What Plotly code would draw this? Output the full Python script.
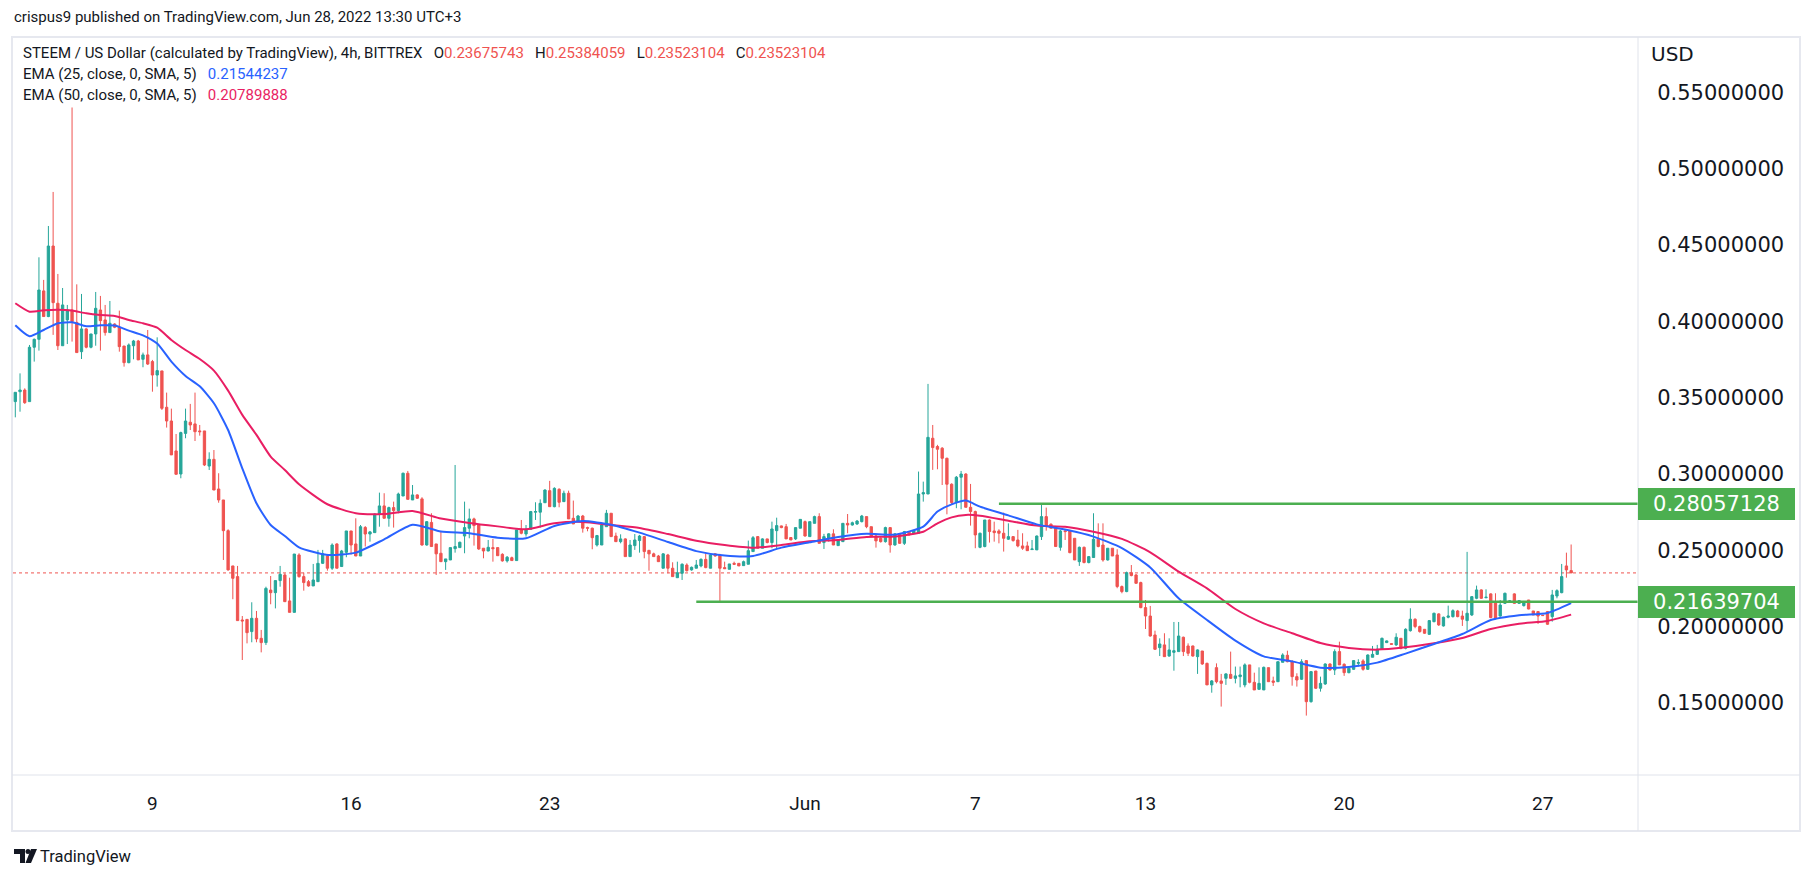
import pandas as pd
import plotly.graph_objects as go

# ---------------- data ----------------
first_bar = "2022-05-04 07:00"   # 4h bars, UTC+3

open_ = [
    .3474, .3539, .3550, .3474, .3830, .3882, .4199, .4031, .4493, .4118,
    .3840, .4009, .4074, .3993, .3801, .3950, .3830, .3917, .4074, .4009,
    .3926, .3982, .3961, .3838, .3729, .3840, .3871, .3751, .3780, .3736,
    .3648, .3675, .3437, .3347, .3151, .3000, .3266, .3339, .3328, .3282,
    .3282, .3052, .3096, .2902, .2830, .2629, .2398, .2328, .2044, .2048,
    .1968, .2055, .1924, .1896, .2240, .2223, .2302, .2339, .2169, .2094,
    .2470, .2328, .2295, .2267, .2295, .2415, .2463, .2383, .2542, .2394,
    .2487, .2627, .2542, .2463, .2650, .2607, .2616, .2738, .2791, .2710,
    .2780, .2760, .2856, .3005, .2830, .2863, .2837, .2535, .2683, .2542,
    .2481, .2426, .2437, .2511, .2518, .2594, .2645, .2706, .2666, .2514,
    .2496, .2518, .2518, .2474, .2431, .2452, .2433, .2634, .2607, .2638,
    .2750, .2750, .2812, .2891, .2786, .2900, .2819, .2874, .2710, .2688,
    .2725, .2649, .2645, .2535, .2535, .2655, .2743, .2594, .2557, .2575,
    .2459, .2531, .2564, .2590, .2500, .2477, .2463, .2383, .2470, .2383,
    .2321, .2350, .2404, .2372, .2383, .2398, .2441, .2383, .2477, .2470,
    .2387, .2376, .2415, .2415, .2400, .2409, .2492, .2590, .2514, .2575,
    .2551, .2629, .2660, .2655, .2584, .2575, .2645, .2688, .2590, .2677,
    .2721, .2551, .2579, .2608, .2531, .2557, .2677, .2666, .2673, .2688,
    .2721, .2655, .2594, .2579, .2557, .2649, .2535, .2608, .2546, .2618,
    .2612, .2612, .2869, .2869, .3234, .3180, .3169, .3103, .2933, .2813,
    .2979, .3000, .2782, .2754, .2520, .2525, .2699, .2627, .2627, .2612,
    .2573, .2590, .2568, .2529, .2529, .2505, .2503, .2590, .2721, .2671,
    .2655, .2520, .2627, .2627, .2579, .2426, .2520, .2420, .2453, .2573,
    .2535, .2437, .2514, .2470, .2263, .2230, .2354, .2339, .2289, .2125,
    .2070, .1946, .1863, .1881, .1808, .1832, .1837, .1931, .1874, .1874,
    .1804, .1841, .1760, .1619, .1732, .1645, .1662, .1688, .1662, .1673,
    .1619, .1750, .1636, .1590, .1586, .1732, .1645, .1640, .1767, .1813,
    .1771, .1673, .1656, .1778, .1509, .1710, .1597, .1625, .1756, .1717,
    .1837, .1754, .1699, .1721, .1760, .1776, .1721, .1800, .1819, .1852,
    .1896, .1889, .1881, .1924, .1859, .1974, .2049, .2001, .1983, .1950,
    .2033, .2084, .2005, .2062, .2066, .2103, .2070, .2040, .2077, .2186,
    .2241, .2190, .2215, .2164, .2070, .2153, .2166, .2215, .2153, .2138,
    .2175, .2103, .2099, .2075, .2099, .2066, .2201, .2223, .2398, .23675743,
]

high = [
    .3535, .3659, .3561, .3845, .3887, .4419, .4271, .4624, .4847, .4310,
    .4218, .4107, .5400, .4242, .4179, .3955, .3917, .4192, .4166, .4107,
    .4133, .3987, .4070, .3838, .3855, .3878, .3878, .3795, .3943, .3747,
    .3895, .3675, .3533, .3428, .3262, .3277, .3428, .3459, .3533, .3321,
    .3282, .3142, .3157, .3005, .2830, .2638, .2398, .2398, .2070, .2048,
    .2160, .2103, .1979, .2262, .2332, .2302, .2398, .2350, .2321, .2476,
    .2481, .2354, .2306, .2411, .2503, .2503, .2477, .2546, .2546, .2503,
    .2627, .2627, .2710, .2666, .2659, .2627, .2742, .2878, .2874, .2786,
    .2819, .2878, .3009, .3020, .2928, .2867, .2848, .2692, .2743, .2542,
    .2627, .2444, .2518, .3059, .2557, .2819, .2773, .2714, .2666, .2514,
    .2568, .2575, .2518, .2481, .2463, .2459, .2634, .2699, .2666, .2758,
    .2815, .2834, .2900, .2955, .2913, .2906, .2891, .2891, .2826, .2732,
    .2732, .2655, .2649, .2601, .2673, .2765, .2743, .2616, .2605, .2579,
    .2568, .2607, .2601, .2594, .2503, .2485, .2470, .2481, .2477, .2422,
    .2426, .2415, .2415, .2394, .2437, .2448, .2481, .2477, .2481, .2477,
    .2426, .2411, .2426, .2415, .2433, .2564, .2594, .2594, .2579, .2575,
    .2688, .2714, .2662, .2673, .2586, .2649, .2703, .2695, .2688, .2727,
    .2743, .2608, .2612, .2638, .2568, .2677, .2738, .2688, .2699, .2732,
    .2721, .2655, .2601, .2586, .2655, .2651, .2612, .2612, .2627, .2623,
    .2634, .3016, .2950, .3590, .3321, .3191, .3176, .3107, .2939, .2987,
    .3020, .3005, .2935, .2760, .2616, .2699, .2703, .2688, .2638, .2747,
    .2677, .2594, .2634, .2612, .2557, .2568, .2597, .2804, .2780, .2677,
    .2660, .2634, .2634, .2634, .2579, .2525, .2525, .2463, .2743, .2677,
    .2677, .2514, .2514, .2507, .2270, .2361, .2404, .2345, .2295, .2175,
    .2136, .1974, .1924, .1957, .1924, .2031, .2031, .1935, .1891, .1876,
    .1852, .1841, .1765, .1651, .1760, .1691, .1695, .1837, .1739, .1739,
    .1760, .1750, .1699, .1734, .1739, .1732, .1673, .1771, .1826, .1843,
    .1782, .1695, .1787, .1782, .1706, .1710, .1673, .1760, .1760, .1852,
    .1902, .1760, .1734, .1782, .1787, .1787, .1819, .1874, .1881, .1929,
    .1910, .1891, .1957, .1924, .1990, .2121, .2055, .2007, .1983, .2044,
    .2092, .2088, .2066, .2138, .2114, .2110, .2105, .2490, .2201, .2269,
    .2245, .2245, .2219, .2219, .2175, .2223, .2175, .2219, .2175, .2169,
    .2175, .2103, .2103, .2077, .2103, .2241, .2245, .2411, .2485, .25384059,
]

low = [
    .3371, .3408, .3459, .3474, .3736, .3808, .4031, .4027, .3911, .3812,
    .3840, .3851, .3867, .3795, .3753, .3823, .3823, .3840, .3808, .3906,
    .3926, .3955, .3801, .3703, .3725, .3751, .3747, .3699, .3714, .3539,
    .3572, .3419, .3304, .3125, .2998, .2972, .3234, .3288, .3216, .3251,
    .3052, .3026, .2895, .2812, .2437, .2367, .2180, .2040, .1782, .1891,
    .1898, .1898, .1832, .1880, .2147, .2120, .2262, .2164, .2094, .2094,
    .2321, .2236, .2262, .2267, .2295, .2411, .2367, .2372, .2383, .2394,
    .2455, .2472, .2463, .2463, .2525, .2557, .2616, .2655, .2710, .2655,
    .2649, .2743, .2856, .2834, .2830, .2837, .2531, .2531, .2525, .2339,
    .2426, .2372, .2437, .2485, .2518, .2481, .2579, .2531, .2503, .2448,
    .2494, .2426, .2465, .2426, .2420, .2433, .2433, .2605, .2590, .2638,
    .2699, .2649, .2812, .2786, .2782, .2782, .2819, .2706, .2673, .2688,
    .2616, .2625, .2507, .2525, .2535, .2655, .2590, .2557, .2546, .2459,
    .2459, .2503, .2485, .2448, .2367, .2459, .2426, .2383, .2350, .2328,
    .2321, .2306, .2361, .2367, .2383, .2389, .2383, .2383, .2459, .21639704,
    .2380, .2376, .2404, .2398, .2400, .2409, .2492, .2514, .2514, .2546,
    .2514, .2507, .2645, .2575, .2568, .2568, .2645, .2590, .2590, .2677,
    .2546, .2509, .2557, .2535, .2531, .2557, .2612, .2662, .2666, .2683,
    .2645, .2590, .2518, .2551, .2551, .2485, .2531, .2542, .2535, .2597,
    .2608, .2612, .2819, .2869, .3027, .3031, .2928, .2736, .2797, .2776,
    .2769, .2782, .2662, .2514, .2514, .2520, .2551, .2557, .2546, .2492,
    .2568, .2557, .2520, .2503, .2496, .2503, .2503, .2568, .2629, .2645,
    .2525, .2498, .2568, .2481, .2437, .2398, .2415, .2415, .2453, .2520,
    .2426, .2433, .2463, .2252, .2219, .2226, .2330, .2284, .2121, .1985,
    .1935, .1848, .1808, .1804, .1804, .1712, .1837, .1808, .1808, .1804,
    .1691, .1750, .1619, .1568, .1629, .1477, .1619, .1658, .1629, .1603,
    .1603, .1629, .1586, .1586, .1586, .1640, .1612, .1640, .1767, .1767,
    .1614, .1608, .1651, .1418, .1503, .1592, .1575, .1619, .1712, .1684,
    .1750, .1678, .1695, .1717, .1739, .1712, .1717, .1800, .1815, .1848,
    .1893, .1883, .1874, .1852, .1852, .1968, .1990, .1961, .1953, .1946,
    .2029, .2005, .2001, .2055, .2060, .2062, .2005, .1974, .2070, .2180,
    .2182, .2186, .2055, .2049, .2066, .2149, .2164, .2149, .2149, .2132,
    .2114, .2077, .2018, .2071, .2012, .2033, .2186, .2219, .2321, .23523104,
]

close = [
    .3535, .3550, .3467, .3830, .3882, .4205, .4031, .4493, .4122, .3840,
    .4107, .4074, .3998, .3795, .3950, .3830, .3917, .4085, .4004, .3926,
    .3987, .3961, .3834, .3729, .3845, .3871, .3747, .3780, .3720, .3648,
    .3677, .3430, .3347, .3125, .2998, .3271, .3347, .3321, .3277, .3277,
    .3059, .3096, .2895, .2830, .2629, .2372, .2317, .2040, .2038, .1961,
    .2055, .1920, .1896, .2251, .2223, .2302, .2343, .2164, .2094, .2476,
    .2328, .2289, .2267, .2306, .2415, .2477, .2383, .2535, .2383, .2496,
    .2627, .2535, .2463, .2655, .2607, .2621, .2738, .2791, .2710, .2780,
    .2760, .2869, .3005, .2834, .2863, .2841, .2535, .2688, .2525, .2477,
    .2426, .2444, .2518, .2525, .2553, .2649, .2706, .2662, .2509, .2496,
    .2520, .2511, .2465, .2431, .2455, .2433, .2634, .2612, .2638, .2754,
    .2754, .2808, .2895, .2786, .2906, .2815, .2874, .2706, .2673, .2725,
    .2645, .2645, .2583, .2597, .2666, .2743, .2590, .2557, .2575, .2459,
    .2535, .2568, .2594, .2492, .2477, .2459, .2426, .2477, .2383, .2328,
    .2354, .2409, .2367, .2389, .2404, .2441, .2387, .2470, .2463, .2383,
    .2380, .2411, .2409, .2398, .2426, .2498, .2583, .2514, .2575, .2551,
    .2640, .2662, .2649, .2575, .2568, .2649, .2703, .2594, .2688, .2721,
    .2546, .2590, .2608, .2535, .2568, .2677, .2666, .2681, .2692, .2725,
    .2655, .2594, .2562, .2557, .2649, .2535, .2608, .2546, .2623, .2601,
    .2629, .2869, .2878, .3240, .3173, .3162, .3103, .2933, .2813, .2979,
    .3000, .2782, .2754, .2601, .2612, .2699, .2623, .2616, .2612, .2579,
    .2590, .2564, .2529, .2514, .2498, .2509, .2594, .2721, .2660, .2645,
    .2525, .2627, .2623, .2485, .2437, .2520, .2420, .2459, .2573, .2525,
    .2437, .2514, .2463, .2263, .2230, .2354, .2335, .2284, .2125, .2070,
    .1939, .1852, .1887, .1804, .1848, .1843, .1939, .1837, .1826, .1808,
    .1848, .1756, .1619, .1645, .1640, .1629, .1691, .1662, .1678, .1684,
    .1750, .1636, .1586, .1629, .1734, .1640, .1636, .1771, .1815, .1771,
    .1673, .1651, .1771, .1509, .1706, .1597, .1629, .1756, .1717, .1837,
    .1750, .1699, .1728, .1778, .1765, .1721, .1815, .1819, .1852, .1924,
    .1907, .1885, .1931, .1859, .1983, .2049, .2001, .1968, .1957, .2040,
    .2088, .2012, .2062, .2070, .2105, .2066, .2049, .2088, .2197, .2241,
    .2186, .2193, .2060, .2055, .2142, .2219, .2169, .2153, .2171, .2164,
    .2116, .2077, .2070, .2073, .2016, .2208, .2236, .2328, .2372, .23523104,
]

# EMA lines at these bar indices
ema_idx = [0, 3, 6, 9, 12, 15, 18, 21, 24, 27, 30, 33, 36, 39, 42, 45, 48, 51, 54, 57,
           60, 66, 72, 78, 84, 90, 96, 102, 108, 114, 120, 126, 132, 138, 144, 150, 156,
           162, 168, 174, 180, 186, 192, 195, 198, 201, 204, 210, 216, 222, 228, 234,
           240, 246, 252, 258, 264, 270, 276, 282, 288, 294, 300, 306, 312, 318, 324, 329]
ema25 = [.3974, .3902, .3943, .3987, .3993, .3967, .3974, .3972, .3939, .3908, .3854,
         .3736, .3642, .3574, .3463, .3288, .3037, .2808, .2666, .2594, .2520, .2470,
         .2485, .2572, .2668, .2623, .2612, .2583, .2579, .2660, .2692, .2668, .2616,
         .2555, .2495, .2466, .2463, .2518, .2553, .2588, .2609, .2603, .2655, .2754,
         .2801, .2826, .2786, .2729, .2670, .2636, .2590, .2515, .2388, .2186, .2044,
         .1909, .1806, .1773, .1732, .1736, .1765, .1824, .1887, .1952, .2044, .2075,
         .2090, .21544237]
ema50 = [.4118, .4063, .4072, .4076, .4070, .4052, .4041, .4035, .4009, .3987, .3958,
         .3878, .3812, .3753, .3677, .3546, .3387, .3256, .3114, .3026, .2933, .2802,
         .2743, .2738, .2758, .2708, .2679, .2657, .2638, .2677, .2686, .2666, .2647,
         .2607, .2563, .2535, .2517, .2535, .2559, .2568, .2588, .2590, .2622, .2677,
         .2716, .2732, .2727, .2694, .2662, .2655, .2622, .2575, .2487, .2361, .2251,
         .2116, .2022, .1957, .1893, .1861, .1850, .1865, .1891, .1926, .1985, .2020,
         .2038, .20789888]

tick_dates = ["2022-05-09 03:00", "2022-05-16 03:00", "2022-05-23 03:00", "2022-06-01 03:00",
              "2022-06-07 03:00", "2022-06-13 03:00", "2022-06-20 03:00", "2022-06-27 03:00"]
tick_text = ["9", "16", "23", "Jun", "7", "13", "20", "27"]
price_ticks = [0.15, 0.20, 0.25, 0.30, 0.35, 0.40, 0.45, 0.50, 0.55]

levels = [0.28057128, 0.21639704]
level_start_bar = [208, 144]
last_close = 0.23523104

# ---------------- layout geometry ----------------
W, H = 1813, 876
ML, MR, MT, MB = 13, 175, 38, 101
PW, PH = W - ML - MR, H - MT - MB


def px_x(px):
    return (px - ML) / PW


def px_y(py):
    return (H - MB - py) / PH


n = min(len(open_), len(high), len(low), len(close))
dates = pd.date_range(first_bar, periods=n, freq="4h")
bar_hours = 4.0
bar_px = 4.729
hours_per_px = bar_hours / bar_px
t_left = dates[0] - pd.Timedelta(hours=2.3 * hours_per_px)
t_right = t_left + pd.Timedelta(hours=PW * hours_per_px)
y_range = [0.1029, 0.5855]

GREEN_C = "#26a69a"
RED_C = "#ef5350"
TXT = "#131722"
FONT = "Roboto, 'Open Sans', sans-serif"
AXFONT = "'DejaVu Sans', sans-serif"

fig = go.Figure()
fig.add_trace(go.Candlestick(
    x=dates, open=open_[:n], high=high[:n], low=low[:n], close=close[:n],
    increasing=dict(line=dict(color=GREEN_C, width=1), fillcolor=GREEN_C),
    decreasing=dict(line=dict(color=RED_C, width=1), fillcolor=RED_C),
    whiskerwidth=0, hoverinfo="skip", showlegend=False,
))
ema_x = [dates[i] for i in ema_idx]
fig.add_trace(go.Scatter(x=ema_x, y=ema50, mode="lines",
                         line=dict(color="#e91e63", width=2, shape="spline", smoothing=0.6),
                         hoverinfo="skip", showlegend=False))
fig.add_trace(go.Scatter(x=ema_x, y=ema25, mode="lines",
                         line=dict(color="#2962ff", width=2, shape="spline", smoothing=0.6),
                         hoverinfo="skip", showlegend=False))

shapes = []
# current price dotted line
shapes.append(dict(type="line", xref="paper", x0=0, x1=1, yref="y", y0=last_close, y1=last_close,
                   line=dict(color=RED_C, width=1, dash="dot"), layer="below"))
# horizontal level lines
for lv, sb in zip(levels, level_start_bar):
    shapes.append(dict(type="line", xref="x", x0=dates[sb], x1=t_right, yref="y", y0=lv, y1=lv,
                       line=dict(color="#4caf50", width=2.5)))
# frame
fx0, fx1 = px_x(12), px_x(1800)
fy0, fy1 = px_y(831), px_y(37)
shapes.append(dict(type="rect", xref="paper", yref="paper", x0=fx0, x1=fx1, y0=fy0, y1=fy1,
                   line=dict(color="#e6e8ef", width=2)))
shapes.append(dict(type="line", xref="paper", yref="paper", x0=1, x1=1, y0=fy0, y1=fy1,
                   line=dict(color="#e0e3eb", width=1)))
shapes.append(dict(type="line", xref="paper", yref="paper", x0=fx0, x1=fx1, y0=0, y1=0,
                   line=dict(color="#e0e3eb", width=1)))


# TradingView logo (drawn)
def pxpath(pts):
    s = "M" + " L".join(f"{px_x(a):.5f},{px_y(b):.5f}" for a, b in pts) + " Z"
    return s


shapes.append(dict(type="path", xref="paper", yref="paper",
                   path=pxpath([(14, 849), (25, 849), (25, 863), (20, 863), (20, 854), (14, 854)]),
                   fillcolor=TXT, line=dict(width=0)))
shapes.append(dict(type="circle", xref="paper", yref="paper",
                   x0=px_x(25.5), x1=px_x(30.5), y0=px_y(854), y1=px_y(849),
                   fillcolor=TXT, line=dict(width=0)))
shapes.append(dict(type="path", xref="paper", yref="paper",
                   path=pxpath([(31, 849), (37, 849), (31, 863), (25.5, 863)]),
                   fillcolor=TXT, line=dict(width=0)))

ann = []


def txt(x, y, text, size=15, color=TXT, family=FONT, xanchor="left"):
    ann.append(dict(xref="paper", yref="paper", x=px_x(x), y=px_y(y), text=text, showarrow=False,
                    xanchor=xanchor, yanchor="middle", font=dict(family=family, size=size, color=color)))


sp = "\u00a0\u00a0\u00a0"
red = lambda s: f"<span style='color:{RED_C}'>{s}</span>"
txt(12, 17, "crispus9 published on TradingView.com, Jun 28, 2022 13:30 UTC+3", size=15)
txt(21, 53, "STEEM / US Dollar (calculated by TradingView), 4h, BITTREX" + sp +
    "O" + red(f"{open_[n-1]:.8f}") + sp + "H" + red(f"{high[n-1]:.8f}") + sp +
    "L" + red(f"{low[n-1]:.8f}") + sp + "C" + red(f"{close[n-1]:.8f}"), size=15)
txt(21, 74, "EMA (25, close, 0, SMA, 5)" + sp +
    f"<span style='color:#2962ff'>{ema25[-1]:.8f}</span>", size=15)
txt(21, 95, "EMA (50, close, 0, SMA, 5)" + sp +
    f"<span style='color:#e91e63'>{ema50[-1]:.8f}</span>", size=15)
txt(1649, 54, "USD", size=20, family=AXFONT)
txt(38, 856, "TradingView", size=16.5)

for lv in levels:
    ann.append(dict(xref="paper", yref="y", x=1, y=lv, xanchor="left", yanchor="middle",
                    text=f"{lv:.8f}", showarrow=False, bgcolor="#4caf50", borderpad=4,
                    borderwidth=0, width=149, align="center",
                    font=dict(family=AXFONT, size=21, color="white")))

fig.update_layout(
    width=W, height=H, autosize=False,
    margin=dict(l=ML, r=MR, t=MT, b=MB, pad=0),
    paper_bgcolor="white", plot_bgcolor="white",
    showlegend=False, hovermode=False,
    shapes=shapes, annotations=ann,
    xaxis=dict(type="date", range=[t_left, t_right], rangeslider=dict(visible=False),
               showgrid=False, zeroline=False, showline=False,
               tickmode="array", tickvals=tick_dates, ticktext=tick_text,
               ticks="outside", ticklen=11, tickcolor="rgba(0,0,0,0)",
               tickfont=dict(family=FONT, size=19, color=TXT)),
    yaxis=dict(range=y_range, side="right", showgrid=False, zeroline=False, showline=False,
               tickmode="array", tickvals=price_ticks, tickformat=".8f",
               ticks="outside", ticklen=14, tickcolor="rgba(0,0,0,0)",
               tickfont=dict(family=AXFONT, size=21, color=TXT)),
)

fig.write_html("out.html", config={"displayModeBar": False},
               post_script="document.body.style.margin='0';document.body.style.overflow='hidden';")
